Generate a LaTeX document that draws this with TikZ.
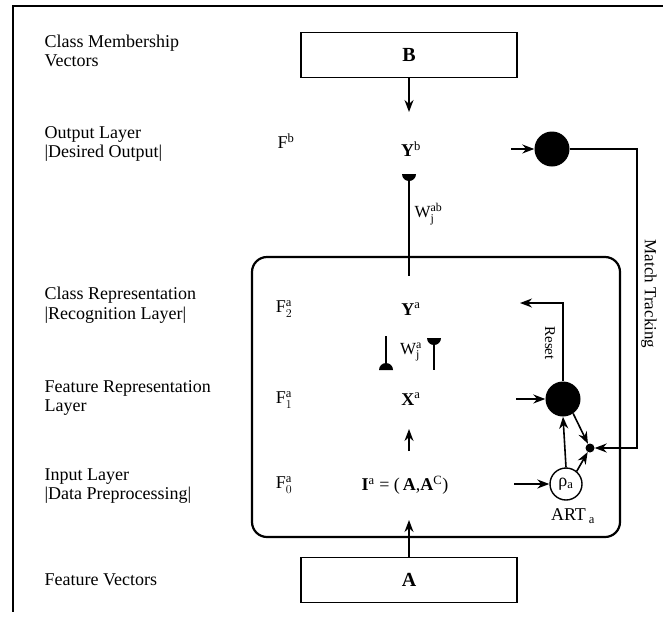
\documentclass[tikz,border=0pt]{standalone}
\usepackage{fontspec}
\setmainfont{Liberation Serif}
\usetikzlibrary{arrows.meta}

\begin{document}
\begin{tikzpicture}[x=1pt,y=-1pt,
  every node/.style={font=\fontsize{18}{19.5}\selectfont},
  layer/.style={align=left,anchor=west},
  vecbox/.style={draw,line width=1.8pt,minimum width=216pt,minimum height=45pt,font=\fontsize{20}{22}\selectfont\bfseries},
  bigdot/.style={circle,fill=black,inner sep=0pt,minimum size=35pt},
  smalldot/.style={circle,fill=black,inner sep=0pt,minimum size=9pt},
  vig/.style={circle,draw,line width=1.4pt,inner sep=0pt,minimum size=32pt},
  arr/.style={-{Stealth[length=12pt,width=9pt]},line width=1.6pt},
  wire/.style={line width=1.4pt},
  small/.style={font=\fontsize{15}{17}\selectfont},
  wlabel/.style={font=\fontsize{17}{19}\selectfont}]
\useasboundingbox (0,0) rectangle (663,616);
\draw[line width=2pt] (663,6) -- (13,6) -- (13,612);

% layer names
\node[layer] (cmv) at (41,51) {Class Membership\\Vectors};
\node[layer] (ol) at (41,144) {Output Layer\\|Desired Output|};
\node[layer] (cr) at (41,305) {Class Representation\\|Recognition Layer|};
\node[layer] (fr) at (41,398) {Feature Representation\\Layer};
\node[layer] (il) at (41,486) {Input Layer\\|Data Preprocessing|};
\node[layer] (fv) at (41,580) {Feature Vectors};

\node (fb) at (286,141) {$\mathrm{F}^{\mathrm{b}}$};
\node (f2) at (284,309) {$\mathrm{F}^{\mathrm{a}}_{2}$};
\node (f1) at (284,400) {$\mathrm{F}^{\mathrm{a}}_{1}$};
\node (f0) at (284,485) {$\mathrm{F}^{\mathrm{a}}_{0}$};

% ART_a module
\node[draw,line width=2.2pt,rounded corners=15pt,minimum width=368pt,minimum height=280pt] (arta) at (436,397) {};

\node[vecbox] (B) at (409,55) {B};
\node[vecbox] (A) at (409,580) {A};
\node (yb) at (411,149) {\textbf{Y}\textsuperscript{b}};
\node (ya) at (411,309) {\textbf{Y}\textsuperscript{a}};
\node (xa) at (411,399) {\textbf{X}\textsuperscript{a}};
\node (ia) at (405,485) {\textbf{I}\textsuperscript{a} = (\,\textbf{A},\textbf{A}\textsuperscript{C})};

\coordinate (bin) at (409,112);
\coordinate (ain) at (409,520);
\draw[arr] (B.south) -- (bin);
\draw[arr] (A.north) -- (ain);

% weights
\coordinate (wabtop) at (409,174);
\coordinate (wabbot) at (409,276);
\draw[wire] (wabtop) -- (wabbot);
\fill (wabtop) ++(-7pt,0) arc[start angle=180,end angle=360,radius=7pt] -- cycle;
\node[wlabel,anchor=west] (wab) at (411,214) {$\mathrm{W}^{\mathrm{ab}}_{\mathrm{j}}$};

\coordinate (wdtop) at (386,336);
\coordinate (wdbot) at (386,370);
\draw[wire] (wdtop) -- (wdbot);
\fill (wdbot) ++(-7pt,0) arc[start angle=180,end angle=0,radius=7pt] -- cycle;
\coordinate (wutop) at (434,338);
\coordinate (wubot) at (434,370);
\draw[wire] (wutop) -- (wubot);
\fill (wutop) ++(-7pt,0) arc[start angle=180,end angle=360,radius=7pt] -- cycle;
\node[wlabel] (wa) at (411,352) {$\mathrm{W}^{\mathrm{a}}_{\mathrm{j}}$};

\coordinate (xup0) at (409,451);
\coordinate (xup1) at (409,429);
\draw[arr] (xup0) -- (xup1);

% orienting and match tracking
\node[bigdot] (mt) at (552,149) {};
\node[bigdot] (vg) at (563,399) {};
\node[vig] (rho) at (566,484) {ρ\textsubscript{a}};
\node[smalldot] (dot) at (590,448) {};
\node (art) at (573,516) {ART\,\textsubscript{a}};

\coordinate (mtin) at (511,149);
\coordinate (vgin) at (516,399);
\coordinate (rhoin) at (514,484);
\draw[arr] (mtin) -- (mt);
\draw[arr] (vgin) -- (vg);
\draw[arr] (rhoin) -- (rho);

\draw[arr] (rho.north) -- (vg.south);
\draw[arr] (vg.-55) -- (dot);
\draw[arr] (rho.50) -- (dot);

\coordinate (rc) at (563,303);
\coordinate (rtip) at (520,303);
\draw[arr] (vg.north) -- (rc) -- (rtip);
\node[small,rotate=-90] (reset) at (550,343) {Reset};

\coordinate (mtc) at (637,149);
\draw[arr] (mt.east) -- (mtc) |- (dot);
\node[rotate=-90,font=\fontsize{17}{19}\selectfont] (mtlabel) at (649,294) {Match Tracking};
\end{tikzpicture}
\end{document}
